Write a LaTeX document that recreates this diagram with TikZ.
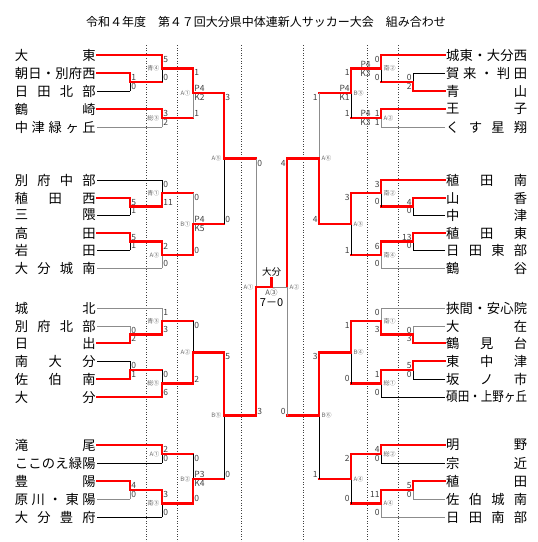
\documentclass[tikz,border=0pt]{standalone}
\usepackage{fontspec}
\setmainfont{Noto Sans CJK JP}
\usepackage{graphicx}
\usetikzlibrary{positioning,calc}

% spread the letters of a name over the whole column
\def\spreadA#1#2{#1\ifx\relax#2\expandafter\dropone\else\hfill\expandafter\spreadA\fi#2}
\def\dropone#1{}
\newcommand\teamname[1]{\makebox[81pt]{\expandafter\spreadA#1\relax}}

% left half: match point, top input, bottom input, line kinds, scores, venue
\newcommand\lgame[8]{%
  \draw[h#4] (#2) -- (#2 -| #1);
  \draw[v#4] (#2 -| #1) -- (#1);
  \draw[h#5] (#3) -- (#3 -| #1);
  \draw[v#5] (#3 -| #1) -- (#1);
  \node[score, anchor=north west] (#1-a) at (#2 -| #1) {#6};
  \node[score, anchor=south west] (#1-b) at (#3 -| #1) {#7};
  \def\venuetext{#8}\ifx\venuetext\empty\else
  \node[venue, anchor=east] (#1-v) at (#1) {#8};\fi
}
% right half
\newcommand\rgame[8]{%
  \draw[h#4] (#2) -- (#2 -| #1);
  \draw[v#4] (#2 -| #1) -- (#1);
  \draw[h#5] (#3) -- (#3 -| #1);
  \draw[v#5] (#3 -| #1) -- (#1);
  \node[score, anchor=north east] (#1-a) at (#2 -| #1) {#6};
  \node[score, anchor=south east] (#1-b) at (#3 -| #1) {#7};
  \def\venuetext{#8}\ifx\venuetext\empty\else
  \node[venue, anchor=west] (#1-v) at (#1) {#8};\fi
}
\newcommand\lpk[3]{%
  \node[score, anchor=south west] (#1-p) at (#1) {P#2};
  \node[score, anchor=north west] (#1-k) at (#1) {K#3};
}
\newcommand\rpk[4][0]{%
  \node[score, anchor=south east] (#2-p) at ($(#2)+(-#1,0)$) {P#3};
  \node[score, anchor=north east] (#2-k) at ($(#2)+(-#1,0)$) {K#4};
}

\begin{document}
\begin{tikzpicture}[x=1pt, y=-1pt,
    win/.style={draw=red, line width=2.4pt, line cap=rect},
    lose/.style={draw=black, line width=.8pt},
    faint/.style={draw=black!45, line width=1pt},
    hW/.style=win, vW/.style=win, hL/.style=lose, vL/.style=lose,
    hG/.style=faint, vG/.style=faint, hRL/.style=win, vRL/.style=lose,
    hRG/.style=win, vRG/.style=faint,
    lteam/.style={anchor=east, inner sep=1pt, font=\fontsize{13.3}{14}\selectfont},
    rteam/.style={anchor=west, inner sep=1pt, font=\fontsize{13.3}{14}\selectfont},
    score/.style={font=\fontsize{8.5}{9}\selectfont, text=black!75, inner sep=1.2pt},
    venue/.style={font=\fontsize{6}{6.5}\selectfont, text=black!60, inner sep=2.5pt},
    guide/.style={dotted, black!75, line width=.6pt}]

    \useasboundingbox (0,0) rectangle (538,542);
    \node[font=\fontsize{12}{14}\selectfont] (title) at (266,22)
        {令和４年度　第４７回大分県中体連新人サッカー大会　組み合わせ};

    \foreach \x in {146,177,241,303,367,398}
        \draw[guide] (\x,45) -- (\x,542);

    % teams
    \foreach \n/\y/\name in {1/55/大東, 2/73/朝日・別府西, 3/91/日田北部, 4/109/鶴崎,
        5/127/中津緑ヶ丘, 6/180/別府中部, 7/198/稙田西, 8/215/三隈, 9/233/高田,
        10/250/岩田, 11/268/大分城南, 12/308/城北, 13/326/別府北部, 14/343/日出,
        15/361/南大分, 16/379/佐伯南, 17/397/大分, 18/445/滝尾, 19/463/ここのえ緑陽,
        20/481/豊陽, 21/499/原川・東陽, 22/517/大分豊府}
        \node[lteam] (t\n) at (97,\y) {\teamname{\name}};
    \foreach \n/\y/\name in {1/55/城東・大分西, 2/73/賀来・判田, 3/91/青山, 4/109/王子,
        5/127/くす星翔, 6/180/稙田南, 7/198/山香, 8/215/中津, 9/233/稙田東,
        10/250/日田東部, 11/268/鶴谷, 12/308/挾間・安心院, 13/326/大在, 14/343/鶴見台,
        15/361/東中津, 16/379/坂ノ市, 18/445/明野, 19/463/宗近,
        20/481/稙田, 21/499/佐伯城南, 22/517/日田南部}
        \node[rteam] (u\n) at (445,\y) {\teamname{\name}};
    \node[rteam] (u17) at (445,397) {\scalebox{.87}[1]{碩田・上野ヶ丘}};

    % match points, left
    \coordinate (la1) at (130,82);    \coordinate (la2) at (162,68.5);
    \coordinate (la3) at (162,118);   \coordinate (la4) at (193,93.25);
    \coordinate (lb1) at (130,206.5); \coordinate (lb2) at (162,193.25);
    \coordinate (lb3) at (130,241.5); \coordinate (lb4) at (162,254.75);
    \coordinate (lb5) at (193,224);   \coordinate (lq1) at (224,158.6);
    \coordinate (lc1) at (130,334.5); \coordinate (lc2) at (162,321.25);
    \coordinate (lc3) at (130,370);   \coordinate (lc4) at (162,383.5);
    \coordinate (lc5) at (193,352.4); \coordinate (ld1) at (162,454);
    \coordinate (ld2) at (130,490);   \coordinate (ld3) at (162,503.5);
    \coordinate (ld4) at (193,478.75);\coordinate (lq2) at (224,415.6);
    \coordinate (ls) at (256,287.1);
    % match points, right
    \coordinate (ra1) at (413,82);    \coordinate (ra2) at (381,68.5);
    \coordinate (ra3) at (381,118);   \coordinate (ra4) at (351,93.25);
    \coordinate (rb1) at (413,206.5); \coordinate (rb2) at (381,193.25);
    \coordinate (rb3) at (413,241.5); \coordinate (rb4) at (381,254.75);
    \coordinate (rb5) at (351,224);   \coordinate (rq1) at (319,158.6);
    \coordinate (rc1) at (413,334.5); \coordinate (rc2) at (381,321.25);
    \coordinate (rc3) at (413,370);   \coordinate (rc4) at (381,383.5);
    \coordinate (rc5) at (351,352.4); \coordinate (rd1) at (381,454);
    \coordinate (rd2) at (413,490);   \coordinate (rd3) at (381,503.5);
    \coordinate (rd4) at (351,478.75);\coordinate (rq2) at (319,415.6);
    \coordinate (rs) at (287,287.1);

    \lgame{la1}{t2.east}{t3.east}{W}{L}{1}{0}{}
    \lgame{la2}{t1.east}{la1}{W}{RL}{5}{0}{青④}
    \lgame{la3}{t4.east}{t5.east}{W}{G}{3}{2}{総③}
    \lgame{la4}{la2}{la3}{W}{RG}{1}{1}{A①} \lpk{la4}{4}{2}
    \lgame{lb1}{t7.east}{t8.east}{W}{L}{5}{1}{}
    \lgame{lb2}{t6.east}{lb1}{L}{W}{0}{11}{青①}
    \lgame{lb3}{t9.east}{t10.east}{W}{L}{5}{1}{}
    \lgame{lb4}{lb3}{t11.east}{W}{G}{2}{0}{A③}
    \lgame{lb5}{lb2}{lb4}{RG}{W}{0}{0}{B①} \lpk{lb5}{4}{5}
    \lgame{lq1}{la4}{lb5}{W}{RL}{3}{0}{A⑤}
    \lgame{lc1}{t13.east}{t14.east}{G}{W}{0}{2}{}
    \lgame{lc2}{t12.east}{lc1}{G}{W}{1}{3}{青③}
    \lgame{lc3}{t15.east}{t16.east}{L}{W}{0}{1}{}
    \lgame{lc4}{lc3}{t17.east}{RL}{W}{0}{6}{総⑤}
    \lgame{lc5}{lc2}{lc4}{RL}{W}{0}{2}{A②}
    \lgame{ld1}{t18.east}{t19.east}{W}{L}{2}{0}{A①}
    \lgame{ld2}{t20.east}{t21.east}{W}{G}{4}{0}{}
    \lgame{ld3}{ld2}{t22.east}{W}{L}{3}{0}{南③}
    \lgame{ld4}{ld1}{ld3}{RL}{W}{0}{0}{B②} \lpk{ld4}{3}{4}
    \lgame{lq2}{lc5}{ld4}{W}{RL}{5}{0}{B⑤}
    \lgame{ls}{lq1}{lq2}{RG}{W}{0}{3}{A①}

    \rgame{ra1}{u2.west}{u3.west}{L}{W}{0}{2}{}
    \rgame{ra2}{u1.west}{ra1}{W}{RL}{0}{0}{南②} \rpk[9]{ra2}{4}{3}
    \rgame{ra3}{u4.west}{u5.west}{W}{G}{1}{1}{A②} \rpk[9]{ra3}{4}{3}
    \rgame{ra4}{ra2}{ra3}{W}{RL}{1}{1}{B③} \rpk{ra4}{4}{1}
    \rgame{rb1}{u7.west}{u8.west}{W}{L}{4}{0}{}
    \rgame{rb2}{u6.west}{rb1}{W}{RL}{3}{0}{南②}
    \rgame{rb3}{u9.west}{u10.west}{W}{L}{13}{0}{}
    \rgame{rb4}{rb3}{u11.west}{W}{G}{6}{0}{南④}
    \rgame{rb5}{rb2}{rb4}{W}{RL}{3}{1}{A③}
    \rgame{rq1}{ra4}{rb5}{RG}{W}{1}{4}{A⑥}
    \rgame{rc1}{u13.west}{u14.west}{G}{W}{0}{3}{}
    \rgame{rc2}{u12.west}{rc1}{G}{W}{0}{3}{南①}
    \rgame{rc3}{u15.west}{u16.west}{W}{L}{5}{0}{}
    \rgame{rc4}{rc3}{u17.west}{W}{L}{1}{0}{総①}
    \rgame{rc5}{rc2}{rc4}{W}{RL}{1}{0}{B④}
    \rgame{rd1}{u18.west}{u19.west}{W}{L}{4}{0}{総②}
    \rgame{rd2}{u20.west}{u21.west}{W}{G}{5}{0}{}
    \rgame{rd3}{rd2}{u22.west}{W}{G}{11}{0}{A④}
    \rgame{rd4}{rd1}{rd3}{W}{RL}{2}{0}{A④}
    \rgame{rq2}{rc5}{rd4}{W}{RL}{3}{1}{B⑥}
    \rgame{rs}{rq1}{rq2}{W}{RG}{4}{0}{A②}

    % final
    \coordinate (fin) at (271.5,287.1);
    \coordinate (tip) at (271.5,278);
    \draw[faint] (rs) -- (fin);
    \draw[win] (ls) -- (fin) -- (tip);
    \node[above=0pt of tip, inner sep=1pt, font=\fontsize{9.5}{10}\selectfont] (champion) {大分};
    \node[below=1pt of fin, inner sep=1pt, text=black!70, font=\fontsize{7.5}{8}\selectfont] (finvenue) {A③};
    \node[below=0pt of finvenue, inner sep=1pt, font=\fontsize{11}{12}\selectfont] (finscore) {7－0};
\end{tikzpicture}
\end{document}
